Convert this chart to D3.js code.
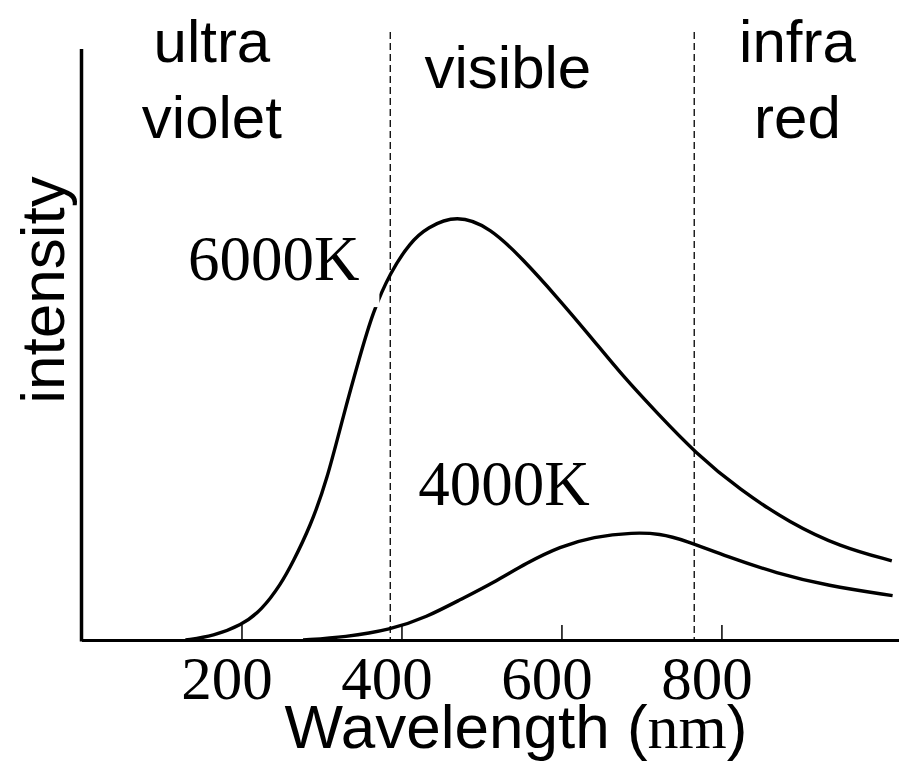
<!DOCTYPE html>
<html>
<head>
<meta charset="utf-8">
<script src="https://cdn.jsdelivr.net/npm/d3@7"></script>
<style>
  html, body { margin: 0; padding: 0; background: #fff; }
  #chart { width: 899px; height: 774px; }
</style>
</head>
<body>
<div id="chart"></div>
<script>
// wavelength in nm, intensity in arbitrary units (0..100 = axis height)
const wave6000 = [130, 165, 200, 225, 250, 264, 286, 307, 327, 348, 364, 386, 411, 432, 469, 511, 552, 594, 636, 677, 719, 767, 823, 886, 948, 1013];
const int6000  = [0, 0.7, 2.5, 5, 9.6, 13.1, 19.2, 27.1, 37.8, 48, 55.4, 62.2, 67.3, 69.8, 72.0, 69.8, 64.4, 58.1, 51.4, 44.6, 38.5, 31.7, 25.4, 19.8, 15.8, 13.4];

const wave4000 = [277, 330, 386, 432, 473, 515, 557, 598, 640, 690, 723, 754, 807, 869, 932, 1014];
const int4000  = [0, 0.5, 1.7, 3.9, 6.8, 9.7, 13.1, 15.8, 17.5, 18.2, 18.0, 16.9, 14.1, 11.3, 9.2, 7.5];

const xTicks = [200, 400, 600, 800];
const bandEdges = [386, 766];

const regionLabels = [
    { lines: ["ultra", "violet"], at: 163 },
    { lines: ["visible"], at: 533 },
    { lines: ["infra", "red"], at: 895 }
];

const curveLabels = [
    { text: "6000K", wave: 133, value: 60.9, mask: true },
    { text: "4000K", wave: 421, value: 22.8, mask: false }
];

function drawChart() {
    d3.select("#chart").selectAll("*").remove();

    const width = 899, height = 774;
    const svg = d3.select("#chart").append("svg")
        .attr("width", width)
        .attr("height", height)
        .style("background", "#fff");

    const xScale = d3.scaleLinear().domain([0, 1022]).range([81.5, 899]);
    const yScale = d3.scaleLinear().domain([0, 100]).range([640, 49]);

    // region dividers
    svg.selectAll(".edge")
        .data(bandEdges)
        .enter()
        .append("line")
        .attr("x1", d => xScale(d))
        .attr("x2", d => xScale(d))
        .attr("y1", 32)
        .attr("y2", yScale(0))
        .style("stroke", "#000")
        .style("stroke-width", 1.3)
        .style("stroke-dasharray", "7, 4");

    const lineGenerator = d3.line()
        .x(d => xScale(d[0]))
        .y(d => yScale(d[1]))
        .curve(d3.curveBasis);

    const series = [
        d3.zip(wave6000, int6000),
        d3.zip(wave4000, int4000)
    ];

    svg.selectAll(".curve")
        .data(series)
        .enter()
        .append("path")
        .attr("fill", "none")
        .attr("stroke", "#000")
        .attr("stroke-width", 3.4)
        .attr("d", lineGenerator);

    // axes
    const xAxis = d3.axisBottom(xScale)
        .tickValues(xTicks)
        .tickSizeInner(-15)
        .tickSizeOuter(0)
        .tickPadding(59)
        .tickFormat(d => d);

    const gx = svg.append("g")
        .attr("transform", `translate(0,${yScale(0)})`)
        .call(xAxis);
    gx.select(".domain")
        .attr("stroke", "#000")
        .attr("stroke-width", 3);
    gx.selectAll(".tick line")
        .attr("stroke", "#000")
        .attr("stroke-width", 1.5);
    gx.selectAll("text")
        .attr("dy", 0)
        .attr("dx", -15)
        .style("text-anchor", "middle")
        .style("fill", "#000")
        .style("font-family", "'Liberation Serif', 'Times New Roman', serif")
        .style("font-size", "61px");

    svg.append("line")
        .attr("x1", xScale(0))
        .attr("x2", xScale(0))
        .attr("y1", yScale(100))
        .attr("y2", yScale(0) + 1.5)
        .style("stroke", "#000")
        .style("stroke-width", 3.5);

    // axis titles
    const xTitle = svg.append("text")
        .attr("x", 516)
        .attr("y", 748)
        .attr("text-anchor", "middle")
        .style("font-family", "'Liberation Sans', Arial, sans-serif")
        .style("font-size", "62px");
    xTitle.append("tspan").text("Wavelength (");
    xTitle.append("tspan")
        .style("font-family", "'Liberation Serif', 'Times New Roman', serif")
        .text("nm");
    xTitle.append("tspan").text(")");

    svg.append("text")
        .attr("transform", "translate(64,290) rotate(-90)")
        .attr("text-anchor", "middle")
        .style("font-family", "'Liberation Sans', Arial, sans-serif")
        .style("font-size", "62px")
        .text("intensity");

    // region labels
    regionLabels.forEach(r => {
        const t = svg.append("text")
            .attr("x", xScale(r.at))
            .attr("y", r.lines.length === 1 ? 88 : 62)
            .attr("text-anchor", "middle")
            .style("font-family", "'Liberation Sans', Arial, sans-serif")
            .style("font-size", "60px");
        r.lines.forEach((l, i) => {
            t.append("tspan")
                .attr("x", xScale(r.at))
                .attr("dy", i === 0 ? 0 : 76)
                .text(l);
        });
    });

    // curve labels
    curveLabels.forEach(c => {
        const t = svg.append("text")
            .attr("x", xScale(c.wave))
            .attr("y", yScale(c.value))
            .style("font-family", "'Liberation Serif', 'Times New Roman', serif")
            .style("font-size", "63px")
            .text(c.text);
        if (c.mask) {
            const b = t.node().getBBox();
            svg.insert("rect", () => t.node())
                .attr("x", b.x - 2)
                .attr("y", b.y)
                .attr("width", b.width + 22)
                .attr("height", b.height + 13)
                .attr("fill", "#fff");
        }
    });
}

drawChart();
</script>
</body>
</html>
